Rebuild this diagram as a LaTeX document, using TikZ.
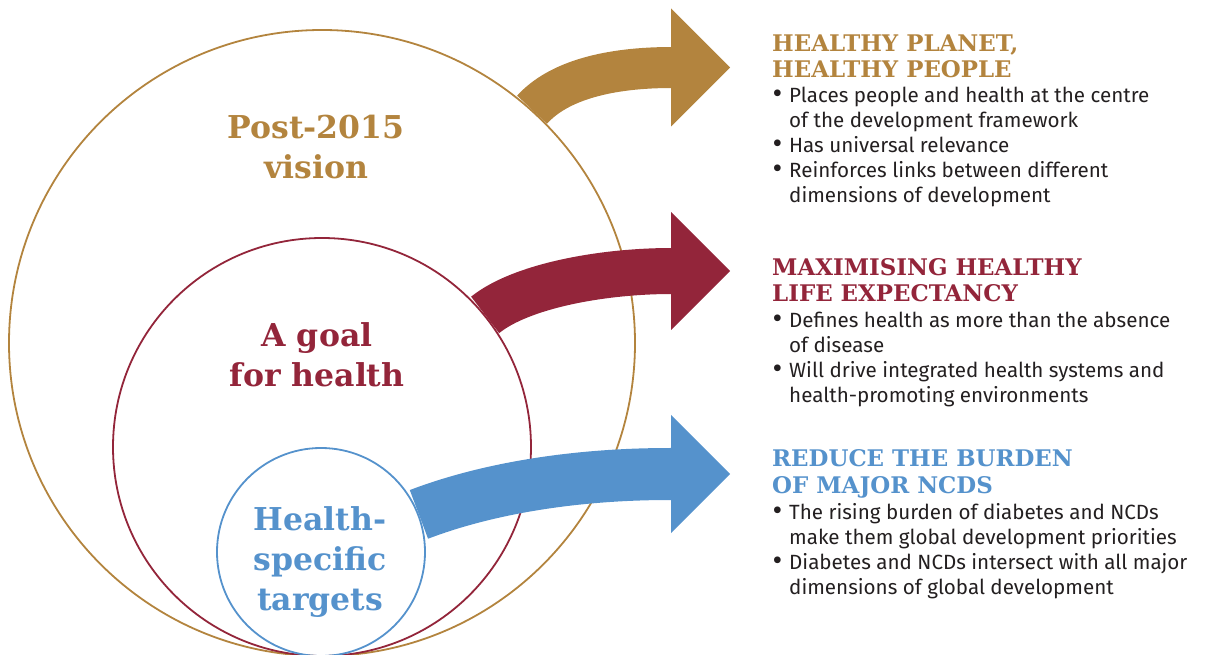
\documentclass[tikz,border=0pt]{standalone}
\usepackage{fontspec}
\setmainfont{Fira Sans}
\newfontfamily\slabfont{DejaVu Serif}
\usetikzlibrary{positioning,calc}
\usetikzlibrary{arrows.meta}
\definecolor{VisionGold}{RGB}{179,132,62}
\definecolor{GoalRed}{RGB}{147,37,58}
\definecolor{TargetBlue}{RGB}{85,146,204}
\definecolor{BodyGray}{RGB}{35,31,32}
\newcommand{\bul}{\makebox[17pt][l]{\hspace{0.5pt}\raisebox{-0.08em}{\scalebox{1.45}{\textbullet}}}}
\newcommand{\ind}{\hspace*{17pt}}
\tikzset{
  ring/.style={circle,draw=#1,line width=1.8pt,inner sep=0pt},
  bigarrow/.style={draw=#1,-{Triangle[length=59pt,width=118pt,line width=0pt]}},
  circlab/.style={font=\slabfont\bfseries\fontsize{31.5}{40}\selectfont,text=#1,align=center,anchor=base,inner sep=0pt},
}
% base anchor sits on the last line of each block
\tikzset{headtxt/.style={font=\slabfont\bfseries\fontsize{22.9}{26.5}\selectfont,text=#1,align=left,anchor=base west,inner sep=0pt},
  listtxt/.style={font=\fontsize{20.6}{25}\selectfont,text=BodyGray,align=left,anchor=base west,inner sep=0pt}}

\begin{document}
\begin{tikzpicture}[x=1pt,y=1pt]
\useasboundingbox (0,0) rectangle (1208,654);
\node[ring=VisionGold,minimum size=626pt] (vision) at (322,311) {};
\node[ring=GoalRed,minimum size=418pt] (goal) at (322,207) {};
\node[ring=TargetBlue,minimum size=208pt] (targets) at (321,102) {};
\node[circlab=VisionGold] (visionlab) at (316,475) {Post-2015\\vision};
\node[circlab=GoalRed] (goallab) at (317,267) {A goal\\for health};
\node[circlab=TargetBlue] (targetlab) at (320,44) {Health-\\specific\\targets};
\coordinate (gtip) at (730,586.5);
\coordinate (rtip) at (730,383);
\coordinate (btip) at (730,180);
\draw[bigarrow=VisionGold,line width=41pt] (vision.48) .. controls +(48:40) and (610,586.5) .. (672,586.5) -- (gtip);
\draw[bigarrow=GoalRed,line width=46pt] (goal.39) .. controls +(39:45) and (600,383) .. (672,383) -- (rtip);
\draw[bigarrow=TargetBlue,line width=52pt] (targets.21) .. controls +(21:60) and (560,180) .. (670,180) -- (btip);
\node[headtxt=VisionGold] (planet) at (772,576) {HEALTHY PLANET,\\HEALTHY PEOPLE};
\node[listtxt] (planetlist) at (772,451.7) {\bul Places people and health at the centre\\
  \ind of the development framework\\
  \bul Has universal relevance\\
  \bul Reinforces links between different\\
  \ind dimensions of development};
\node[headtxt=GoalRed] (maxlife) at (772,352.3) {MAXIMISING HEALTHY\\LIFE EXPECTANCY};
\node[listtxt] (maxlist) at (772,251.7) {\bul Defines health as more than the absence\\
  \ind of disease\\
  \bul Will drive integrated health systems and\\
  \ind health-promoting environments};
\node[headtxt=TargetBlue] (burden) at (772,160.7) {REDUCE THE BURDEN\\OF MAJOR NCDS};
\node[listtxt] (burdenlist) at (772,59.7) {\bul The rising burden of diabetes and NCDs\\
  \ind make them global development priorities\\
  \bul Diabetes and NCDs intersect with all major\\
  \ind dimensions of global development};
\end{tikzpicture}
\end{document}
